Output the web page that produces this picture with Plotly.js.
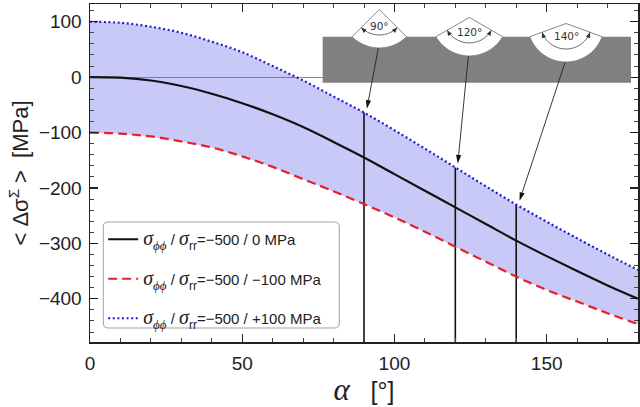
<!DOCTYPE html>
<html><head><meta charset="utf-8">
<script src="https://cdn.plot.ly/plotly-3.0.1.min.js"></script>
<style>html,body{margin:0;padding:0;background:#fff}</style>
</head><body>
<div id="chart" style="width:640px;height:407px"></div>
<script>
// ---- data ----
const alphaDeg  = [0, 10, 20, 30, 40, 50, 60, 70, 80, 90, 100, 110, 120, 130, 140, 150, 160, 170, 180];
const sigmaMid  = [0, -1, -6, -16, -30, -47, -67, -90, -117, -145, -175, -205, -235, -265, -295, -323, -350, -376, -400]; // -500 / 0 MPa
const sigmaLow  = [-100, -102, -107, -116, -127, -143, -162, -184, -206, -229, -253, -279, -306, -333, -360, -384, -405, -426, -446]; // -500 / -100 MPa
const sigmaHigh = [100, 98, 91, 80, 64, 45, 20, -6, -35, -64, -96, -129, -163, -197, -230, -261, -291, -320, -348]; // -500 / +100 MPa
const rrValues  = ['0', '−100', '+100'];
const indentAngles = [90, 120, 140];
const indentLabels = ['90°', '120°', '140°'];
const yRange = [-478, 132];
const xRange = [0, 180];

// ---- labels (sub/superscripts via baseline-shift) ----
const serifIt = (t, extra) => "<span style=\"font-family:'Liberation Serif';font-style:italic" + (extra || '') + "\">" + t + "</span>";
const sig = serifIt('σ', ';font-size:20px');
const subPhi = serifIt('ϕϕ', ';font-size:13px;baseline-shift:-5px');
const subRR = "<span style=\"font-size:12px;baseline-shift:-5px\">rr</span>";
const seriesNames = rrValues.map(v => sig + subPhi + ' / ' + sig + subRR + '=−500 / ' + v + ' MPa');
const yTitle = '\u00a0\u00a0\u00a0\u00a0&lt;\u00a0Δσ<span style="font-size:15px;baseline-shift:9px">Σ</span>\u00a0&gt;\u00a0\u00a0[MPa]';
const xTitle = serifIt('α', ';font-size:31px') + '\u00a0\u00a0\u00a0[°]';

// ---- vertical marker lines from the axis bottom up to the upper curve ----
const vx = [], vy = [];
indentAngles.forEach(a => {
  const i = alphaDeg.indexOf(a);
  vx.push(a, a, null);
  vy.push(yRange[0], sigmaHigh[i], null);
});

const traces = [
  {x: alphaDeg, y: sigmaLow, mode: 'lines', line: {width: 0, color: 'rgba(0,0,0,0)'}, showlegend: false, hoverinfo: 'skip'},
  {x: alphaDeg, y: sigmaHigh, mode: 'lines', fill: 'tonexty', fillcolor: 'rgba(90,90,235,0.33)', line: {width: 0, color: 'rgba(0,0,0,0)'}, showlegend: false, hoverinfo: 'skip'},
  {x: vx, y: vy, mode: 'lines', line: {color: '#111', width: 1.6}, showlegend: false, hoverinfo: 'skip'},
  {x: alphaDeg, y: sigmaMid, mode: 'lines', name: seriesNames[0], legendgroup: 'a', line: {color: '#111', width: 2.2, shape: 'spline'}},
  {x: alphaDeg, y: sigmaLow, mode: 'lines', name: seriesNames[1], legendgroup: 'b', line: {color: 'rgb(232,30,40)', width: 2.2, dash: '9px,5px', shape: 'spline'}},
  {x: alphaDeg, y: sigmaHigh, mode: 'lines', name: seriesNames[2], legendgroup: 'c', line: {color: 'rgb(30,30,205)', width: 2.2, dash: '2px,2.6px', shape: 'spline'}}
];

// ---- inset drawing (pixel geometry, anchored to the plot's top-left corner) ----
const L = 90, T = 4, PW = 548, PH = 338;
const P = (X, Y) => (X - L).toFixed(2) + ',' + (T - Y).toFixed(2);
const xPix = a => L + (a - xRange[0]) / (xRange[1] - xRange[0]) * PW;
const yPix = v => T + (yRange[1] - v) / (yRange[1] - yRange[0]) * PH;
const base = {xref: 'paper', yref: 'paper', xsizemode: 'pixel', ysizemode: 'pixel', xanchor: 0, yanchor: 1, layer: 'above'};
const shapes = [];

// rounded legend frame
const lb = {l: 103.3, r: 339.3, t: 222, b: 328, rad: 5};
shapes.push(Object.assign({}, base, {type: 'path',
  path: 'M' + P(lb.l + lb.rad, lb.t) + ' L' + P(lb.r - lb.rad, lb.t) + ' Q' + P(lb.r, lb.t) + ' ' + P(lb.r, lb.t + lb.rad) +
        ' L' + P(lb.r, lb.b - lb.rad) + ' Q' + P(lb.r, lb.b) + ' ' + P(lb.r - lb.rad, lb.b) +
        ' L' + P(lb.l + lb.rad, lb.b) + ' Q' + P(lb.l, lb.b) + ' ' + P(lb.l, lb.b - lb.rad) +
        ' L' + P(lb.l, lb.t + lb.rad) + ' Q' + P(lb.l, lb.t) + ' ' + P(lb.l + lb.rad, lb.t) + ' Z',
  fillcolor: '#ffffff', line: {color: '#a0a0a0', width: 1}}));

const rectTop = 36.7, rectBot = 82.7, rectL = 322.7, rectR = 631;
shapes.push(Object.assign({}, base, {type: 'rect', x0: rectL - L, x1: rectR - L, y0: T - rectTop, y1: T - rectBot, fillcolor: '#808080', line: {width: 0}}));
const Rb = 38.5, rs = 25.5;
const centersX = [379.3, 469.3, 566];
const labelDY = [17, 14.7, 12.3];
const annotations = [];
const deg = Math.PI / 180;
const tri = (tip, dir, len, hw, color) => {
  const bx = tip[0] - dir[0] * len, by = tip[1] - dir[1] * len;
  const nx = -dir[1], ny = dir[0];
  return Object.assign({}, base, {type: 'path',
    path: 'M' + P(tip[0], tip[1]) + ' L' + P(bx + nx * hw, by + ny * hw) + ' L' + P(bx - nx * hw, by - ny * hw) + ' Z',
    fillcolor: color, line: {width: 0}});
};
indentAngles.forEach((ang, k) => {
  const h = ang / 2 * deg;
  const cx = centersX[k];
  const ay = rectTop - Rb * Math.cos(h);
  const pts = [];
  for (let i = 0; i <= 40; i++) {
    const th = -h + 2 * h * i / 40;
    pts.push(P(cx + Rb * Math.sin(th), ay + Rb * Math.cos(th)));
  }
  shapes.push(Object.assign({}, base, {type: 'path', path: 'M' + P(cx, ay) + ' L' + pts.join(' L') + ' Z', fillcolor: '#ffffff', line: {color: '#7a7a7a', width: 0.9}}));
  const ip = [];
  for (let i = 0; i <= 30; i++) {
    const th = -h + 2 * h * i / 30;
    ip.push(P(cx + rs * Math.sin(th), ay + rs * Math.cos(th)));
  }
  shapes.push(Object.assign({}, base, {type: 'path', path: 'M' + ip.join(' L'), fillcolor: 'rgba(0,0,0,0)', line: {color: '#444', width: 0.8}}));
  [-1, 1].forEach(s => {
    const tt = s * h;
    const tip = [cx + rs * Math.sin(tt), ay + rs * Math.cos(tt)];
    const dir = [s * Math.cos(tt), -s * Math.sin(tt)];
    shapes.push(tri(tip, dir, 5.5, 2.2, '#333'));
  });
  annotations.push({xref: 'paper', yref: 'paper', x: (cx - L) / PW, y: (T + PH - (ay + labelDY[k])) / PH, xanchor: 'center', yanchor: 'middle',
    text: indentLabels[k], showarrow: false, font: {family: 'DejaVu Sans', size: 10.5, color: '#333'}});

  // arrow from the indent bottom to the top of the marker line
  const i = alphaDeg.indexOf(ang);
  const top = [xPix(ang), yPix(sigmaHigh[i])];
  const tail = [cx - 1, ay + Rb + 0.5];
  const dx = tail[0] - top[0], dy = tail[1] - top[1], dl = Math.hypot(dx, dy);
  const u = [dx / dl, dy / dl];
  const tip = [top[0] + u[0] * 4 + 2, top[1] + u[1] * 4];
  const d2 = [tip[0] - tail[0], tip[1] - tail[1]], l2 = Math.hypot(d2[0], d2[1]);
  const dir = [d2[0] / l2, d2[1] / l2];
  shapes.push(Object.assign({}, base, {type: 'path', path: 'M' + P(tail[0], tail[1]) + ' L' + P(tip[0] - dir[0] * 6, tip[1] - dir[1] * 6),
    fillcolor: 'rgba(0,0,0,0)', line: {color: '#222', width: 0.9}}));
  shapes.push(tri(tip, dir, 8.5, 2.6, '#111'));
});

const tickFont = {family: 'Liberation Sans', size: 19, color: '#222'};
const layout = {
  width: 640, height: 407, autosize: false,
  margin: {l: L, r: 2, t: T, b: 65},
  paper_bgcolor: '#fff', plot_bgcolor: '#fff',
  showlegend: true,
  legend: {x: 0.024, y: 0.352, xanchor: 'left', yanchor: 'top', bgcolor: 'rgba(0,0,0,0)', borderwidth: 0,
    font: {family: 'Liberation Sans', size: 15, color: '#222'}, traceorder: 'grouped', tracegroupgap: 17, itemwidth: 30},
  xaxis: {range: xRange, dtick: 50, ticks: 'inside', ticklen: 8, tickwidth: 1.2, tickcolor: '#222',
    minor: {dtick: 10, ticks: 'inside', ticklen: 4, tickwidth: 1, tickcolor: '#444'},
    showline: true, linecolor: '#222', linewidth: 1.5, mirror: 'ticks', showgrid: false, zeroline: false,
    tickfont: tickFont, ticklabelstandoff: 4,
    title: {text: xTitle, font: {family: 'Liberation Sans', size: 25, color: '#222'}, standoff: 9}},
  yaxis: {range: yRange, dtick: 100, ticks: 'inside', ticklen: 8, tickwidth: 1.2, tickcolor: '#222',
    minor: {dtick: 20, ticks: 'inside', ticklen: 4, tickwidth: 1, tickcolor: '#444'},
    showline: true, linecolor: '#222', linewidth: 1.5, mirror: 'ticks', showgrid: false,
    zeroline: true, zerolinecolor: '#8a8a8a', zerolinewidth: 1,
    tickfont: tickFont, ticklabelstandoff: 3,
    title: {text: yTitle, font: {family: 'Liberation Sans', size: 22, color: '#222'}, standoff: 4}},
  shapes: shapes,
  annotations: annotations
};
Plotly.newPlot('chart', traces, layout, {displayModeBar: false, staticPlot: true});
</script>
</body></html>
